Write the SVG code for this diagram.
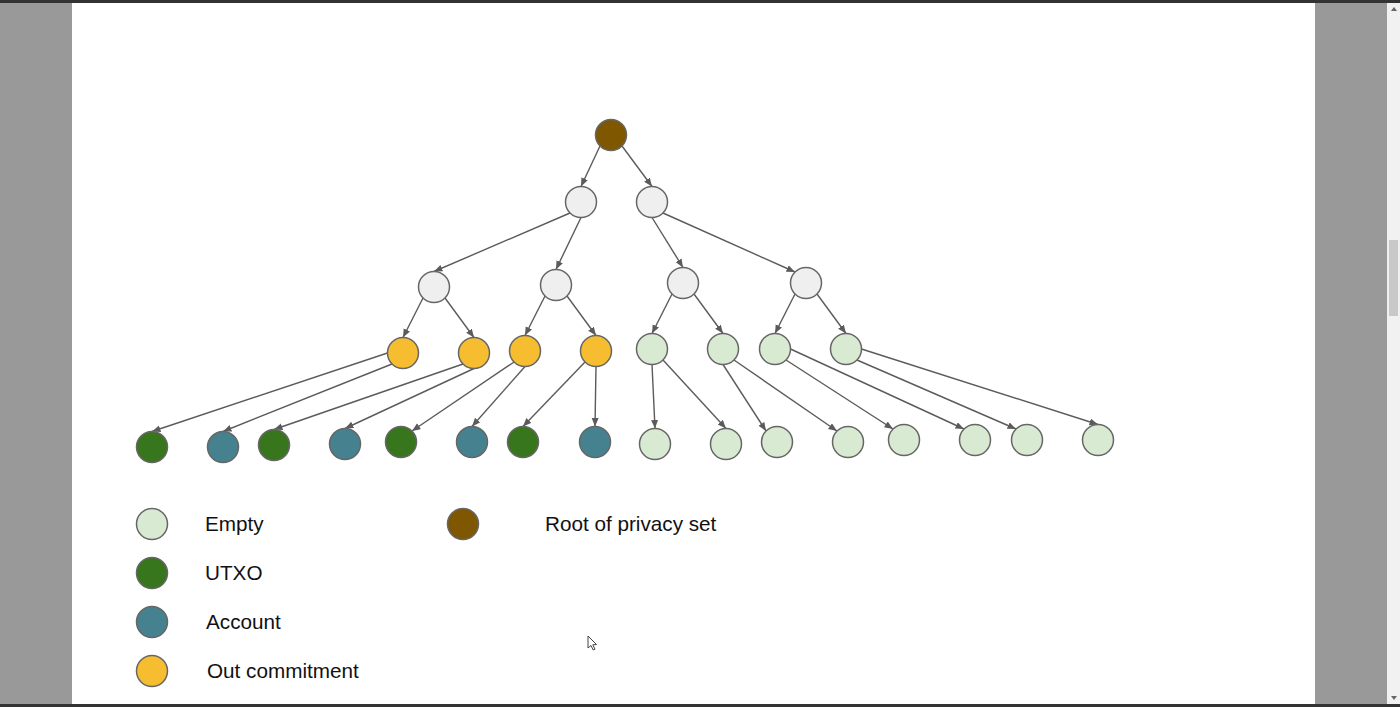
<svg xmlns="http://www.w3.org/2000/svg" width="1400" height="707" viewBox="0 0 1400 707">
<style>
.n{stroke:#666;stroke-width:1.5}
.root{fill:#7f5700}
.inner{fill:#efefef}
.empty{fill:#d9ead3}
.utxo{fill:#38761d}
.acct{fill:#45818e}
.out{fill:#f6bd30}
.e{stroke:#5b5b5b;stroke-width:1.4;fill:none;marker-end:url(#ah)}
.t{font-family:"Liberation Sans",Arial,sans-serif;font-size:20.7px;fill:#111}
</style>
<defs>
<marker id="ah" markerUnits="userSpaceOnUse" markerWidth="9" markerHeight="8" refX="8.5" refY="3.5" orient="auto">
<path d="M0,0 L8.5,3.5 L0,7 z" fill="#5b5b5b"/>
</marker>
</defs>
<rect x="0" y="0" width="1400" height="707" fill="#999999"/>
<rect x="72" y="3" width="1243" height="701" fill="#ffffff"/>
<rect x="0" y="0" width="1400" height="3" fill="#333333"/>
<rect x="0" y="704" width="1400" height="3" fill="#333333"/>
<rect x="1387" y="3" width="13" height="701" fill="#f1f1f1"/>
<rect x="1389" y="240" width="9" height="76" fill="#c8c8c8"/>
<path d="M1391,11 L1394,7 L1397,11 z" fill="#666"/>
<path d="M1391,696 L1394,700 L1397,696 z" fill="#666"/>

<g id="connectors">
<line class="e" x1="600" y1="146" x2="581" y2="186.5"/>
<line class="e" x1="622" y1="146" x2="652" y2="186.5"/>
<line class="e" x1="570" y1="213" x2="434" y2="271.5"/>
<line class="e" x1="581" y1="217.5" x2="556" y2="269.5"/>
<line class="e" x1="652" y1="217.5" x2="683" y2="267.5"/>
<line class="e" x1="663" y1="213" x2="795" y2="272"/>
<line class="e" x1="423" y1="298" x2="403" y2="337.5"/>
<line class="e" x1="445" y1="298" x2="474" y2="337.5"/>
<line class="e" x1="545" y1="296" x2="525" y2="335.5"/>
<line class="e" x1="567" y1="296" x2="596" y2="335.5"/>
<line class="e" x1="672" y1="294" x2="652" y2="333.5"/>
<line class="e" x1="694" y1="294" x2="723" y2="333.5"/>
<line class="e" x1="795" y1="294" x2="775" y2="333.5"/>
<line class="e" x1="817" y1="294" x2="846" y2="333.5"/>
<line class="e" x1="387.5" y1="353" x2="152" y2="431.5"/>
<line class="e" x1="392" y1="364" x2="223" y2="431.5"/>
<line class="e" x1="463" y1="364" x2="274" y2="429.5"/>
<line class="e" x1="474" y1="368.5" x2="345" y2="428.5"/>
<line class="e" x1="514" y1="362" x2="412" y2="431"/>
<line class="e" x1="525" y1="366.5" x2="472" y2="426.5"/>
<line class="e" x1="585" y1="362" x2="523" y2="426.5"/>
<line class="e" x1="596" y1="366.5" x2="595" y2="426.5"/>
<line class="e" x1="652" y1="364.5" x2="655" y2="428.5"/>
<line class="e" x1="663" y1="360" x2="726" y2="428.5"/>
<line class="e" x1="723" y1="364.5" x2="766" y2="431"/>
<line class="e" x1="734" y1="360" x2="837" y2="431"/>
<line class="e" x1="786" y1="360" x2="893" y2="429"/>
<line class="e" x1="790.5" y1="349" x2="964" y2="429"/>
<line class="e" x1="857" y1="360" x2="1016" y2="429"/>
<line class="e" x1="861.5" y1="349" x2="1098" y2="424.5"/>
</g>

<g id="root"><circle class="n root" cx="611" cy="135" r="15.5"/></g>
<g id="n1a"><circle class="n inner" cx="581" cy="202" r="15.5"/></g>
<g id="n1b"><circle class="n inner" cx="652" cy="202" r="15.5"/></g>
<g id="n2a"><circle class="n inner" cx="434" cy="287" r="15.5"/></g>
<g id="n2b"><circle class="n inner" cx="556" cy="285" r="15.5"/></g>
<g id="n2c"><circle class="n inner" cx="683" cy="283" r="15.5"/></g>
<g id="n2d"><circle class="n inner" cx="806" cy="283" r="15.5"/></g>
<g id="n3a"><circle class="n out" cx="403" cy="353" r="15.5"/></g>
<g id="n3b"><circle class="n out" cx="474" cy="353" r="15.5"/></g>
<g id="n3c"><circle class="n out" cx="525" cy="351" r="15.5"/></g>
<g id="n3d"><circle class="n out" cx="596" cy="351" r="15.5"/></g>
<g id="n3e"><circle class="n empty" cx="652" cy="349" r="15.5"/></g>
<g id="n3f"><circle class="n empty" cx="723" cy="349" r="15.5"/></g>
<g id="n3g"><circle class="n empty" cx="775" cy="349" r="15.5"/></g>
<g id="n3h"><circle class="n empty" cx="846" cy="349" r="15.5"/></g>
<g id="l1"><circle class="n utxo" cx="152" cy="447" r="15.5"/></g>
<g id="l2"><circle class="n acct" cx="223" cy="447" r="15.5"/></g>
<g id="l3"><circle class="n utxo" cx="274" cy="445" r="15.5"/></g>
<g id="l4"><circle class="n acct" cx="345" cy="444" r="15.5"/></g>
<g id="l5"><circle class="n utxo" cx="401" cy="442" r="15.5"/></g>
<g id="l6"><circle class="n acct" cx="472" cy="442" r="15.5"/></g>
<g id="l7"><circle class="n utxo" cx="523" cy="442" r="15.5"/></g>
<g id="l8"><circle class="n acct" cx="595" cy="442" r="15.5"/></g>
<g id="l9"><circle class="n empty" cx="655" cy="444" r="15.5"/></g>
<g id="l10"><circle class="n empty" cx="726" cy="444" r="15.5"/></g>
<g id="l11"><circle class="n empty" cx="777" cy="442" r="15.5"/></g>
<g id="l12"><circle class="n empty" cx="848" cy="442" r="15.5"/></g>
<g id="l13"><circle class="n empty" cx="904" cy="440" r="15.5"/></g>
<g id="l14"><circle class="n empty" cx="975" cy="440" r="15.5"/></g>
<g id="l15"><circle class="n empty" cx="1027" cy="440" r="15.5"/></g>
<g id="l16"><circle class="n empty" cx="1098" cy="440" r="15.5"/></g>

<g id="legend">
<g id="leg-empty"><circle class="n empty" cx="152" cy="524" r="15.5"/><text class="t" x="205" y="531">Empty</text></g>
<g id="leg-utxo"><circle class="n utxo" cx="152" cy="573" r="15.5"/><text class="t" x="205" y="580">UTXO</text></g>
<g id="leg-acct"><circle class="n acct" cx="152" cy="622" r="15.5"/><text class="t" x="206" y="629">Account</text></g>
<g id="leg-out"><circle class="n out" cx="152" cy="671" r="15.5"/><text class="t" x="207" y="678">Out commitment</text></g>
<g id="leg-root"><circle class="n root" cx="463" cy="524" r="15.5"/><text class="t" x="545" y="531">Root of privacy set</text></g>
</g>

<path d="M588,636 L588,648 L591,645.5 L593.2,650 L595,649.2 L592.8,644.8 L596.5,644.5 Z" fill="#fff" stroke="#444" stroke-width="1"/>
</svg>
